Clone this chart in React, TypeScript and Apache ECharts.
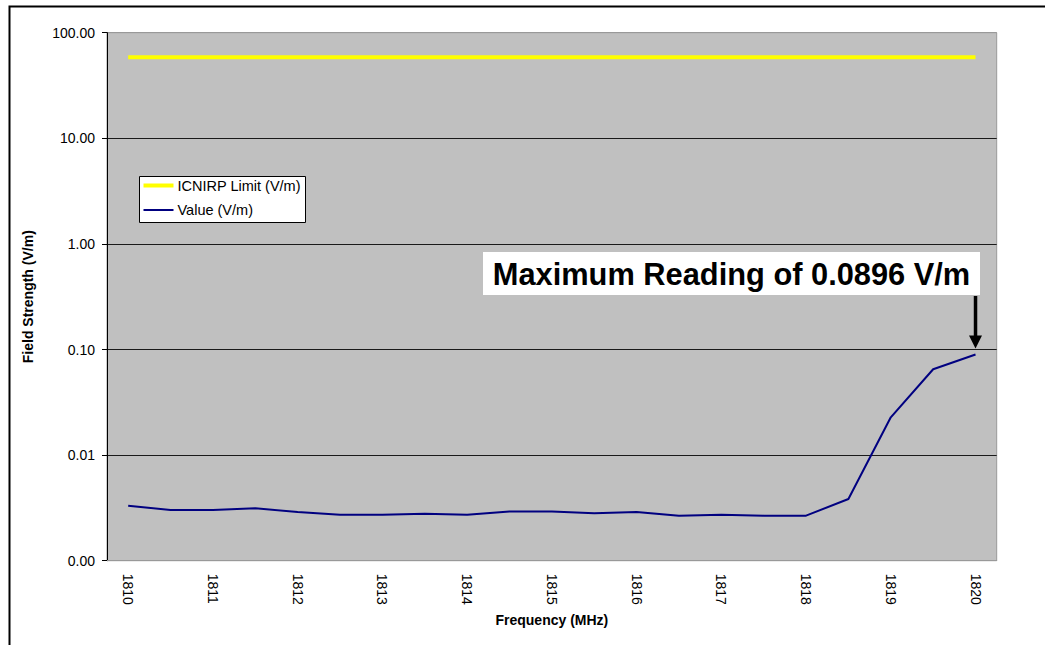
import React, { useEffect, useRef } from "react";
import * as echarts from "echarts";

const frequencies = [
  "1810", "1810.5", "1811", "1811.5", "1812", "1812.5", "1813", "1813.5", "1814", "1814.5", "1815",
  "1815.5", "1816", "1816.5", "1817", "1817.5", "1818", "1818.5", "1819", "1819.5", "1820",
];
const icnirpLimit = [
  58.6, 58.6, 58.6, 58.6, 58.6, 58.6, 58.6, 58.6, 58.6, 58.6, 58.6,
  58.6, 58.6, 58.6, 58.6, 58.6, 58.6, 58.6, 58.6, 58.6, 58.6,
];
const measuredValues = [
  0.00332, 0.00302, 0.00302, 0.00313, 0.00289, 0.00273, 0.00273, 0.00279, 0.00273, 0.00293, 0.00293,
  0.00281, 0.00289, 0.00267, 0.00273, 0.00267, 0.00267, 0.00384, 0.0228, 0.065, 0.0896,
];
const seriesNames = ["ICNIRP Limit (V/m)", "Value (V/m)"];
const seriesColors = ["#ffff00", "#000080"];
const seriesWidths = [4, 2];
const maxReading = 0.0896;
const annotationText = "Maximum Reading of 0.0896 V/m";

const FONT = "Liberation Sans, Arial, Helvetica, sans-serif";

export default function App() {
  const ref = useRef<HTMLDivElement>(null);
  useEffect(() => {
    if (!ref.current) return;
    const chart = echarts.init(ref.current, undefined, { renderer: "svg" });
    chart.setOption({
      animation: false,
      backgroundColor: "#ffffff",
      textStyle: { fontFamily: FONT },
      grid: {
        left: 107,
        top: 32.7,
        right: 48.3,
        bottom: 84.3,
        show: true,
        backgroundColor: "#c0c0c0",
        borderColor: "#999999",
        borderWidth: 1,
      },
      xAxis: {
        type: "category",
        data: frequencies,
        boundaryGap: true,
        name: "Frequency (MHz)",
        nameLocation: "middle",
        nameGap: 52,
        nameTextStyle: { fontSize: 14, fontWeight: "bold", color: "#000", fontFamily: FONT },
        axisLine: { show: true, lineStyle: { color: "#999999", width: 1 } },
        axisTick: { show: false },
        axisLabel: {
          interval: 1,
          rotate: -90,
          margin: 13,
          fontSize: 14,
          color: "#000",
          fontFamily: FONT,
        },
        splitLine: { show: false },
      },
      yAxis: {
        type: "log",
        logBase: 10,
        min: 0.001,
        max: 100,
        name: "Field Strength (V/m)",
        nameLocation: "middle",
        nameGap: 72,
        nameTextStyle: { fontSize: 14, fontWeight: "bold", color: "#000", fontFamily: FONT },
        axisLine: { show: true, lineStyle: { color: "#000000", width: 1 } },
        axisTick: { show: true, length: 5, lineStyle: { color: "#000000" } },
        axisLabel: {
          margin: 12,
          fontSize: 14,
          color: "#000",
          fontFamily: FONT,
          formatter: (v: number) => v.toFixed(2),
        },
        splitLine: {
          show: true,
          lineStyle: { color: ["#999999", "#1a1a1a", "#1a1a1a", "#1a1a1a", "#1a1a1a", "#999999"], width: 1 },
        },
      },
      series: [
        {
          name: seriesNames[0],
          type: "line",
          data: icnirpLimit,
          symbol: "none",
          lineStyle: { color: seriesColors[0], width: seriesWidths[0] },
          itemStyle: { color: seriesColors[0] },
        },
        {
          name: seriesNames[1],
          type: "line",
          data: measuredValues,
          symbol: "none",
          lineStyle: { color: seriesColors[1], width: seriesWidths[1] },
          itemStyle: { color: seriesColors[1] },
        },
      ],
    });

    const idx = measuredValues.indexOf(maxReading);
    const pt = chart.convertToPixel({ xAxisIndex: 0, yAxisIndex: 0 }, [idx, maxReading]) as number[];
    const ax = pt[0];
    const tipY = pt[1] - 6;
    const boxBottom = 295;

    const legendX = 139.5;
    const legendY = 176.5;
    const legendItems: any[] = [];
    seriesNames.forEach((name, i) => {
      const cy = legendY + 9 + i * 24.5;
      legendItems.push({
        type: "line",
        shape: { x1: legendX + 4, y1: cy, x2: legendX + 34, y2: cy },
        style: { stroke: seriesColors[i], lineWidth: seriesWidths[i] },
        z: 101,
      });
      legendItems.push({
        type: "text",
        x: legendX + 38,
        y: cy,
        style: {
          text: name,
          font: `14.5px ${FONT}`,
          fill: "#000",
          textAlign: "left",
          textVerticalAlign: "middle",
        },
        z: 101,
      });
    });

    chart.setOption({
      graphic: [
        {
          type: "rect",
          left: 7,
          top: 4,
          shape: { x: 0, y: 0, width: 1200, height: 800 },
          style: { fill: "none", stroke: "#000", lineWidth: 2 },
          silent: true,
          z: 100,
        },
        {
          type: "rect",
          shape: { x: legendX, y: legendY, width: 166, height: 46 },
          style: { fill: "#ffffff", stroke: "#000", lineWidth: 1 },
          z: 100,
        },
        ...legendItems,
        {
          type: "rect",
          shape: { x: 483, y: 252, width: 497, height: 43 },
          style: { fill: "#ffffff" },
          z: 100,
        },
        {
          type: "text",
          x: 731.5,
          y: 274,
          style: {
            text: annotationText,
            font: `bold 30.8px ${FONT}`,
            fill: "#000",
            textAlign: "center",
            textVerticalAlign: "middle",
          },
          z: 101,
        },
        {
          type: "line",
          shape: { x1: ax, y1: boxBottom + 1, x2: ax, y2: tipY - 10 },
          style: { stroke: "#000", lineWidth: 3.5 },
          z: 101,
        },
        {
          type: "polygon",
          shape: { points: [[ax - 6.5, tipY - 13], [ax + 6.5, tipY - 13], [ax, tipY]] },
          style: { fill: "#000" },
          z: 101,
        },
      ],
    });

    return () => chart.dispose();
  }, []);
  return (
    <div
      ref={ref}
      style={{ position: "fixed", left: 0, top: 0, width: 1045, height: 645 }}
    />
  );
}
